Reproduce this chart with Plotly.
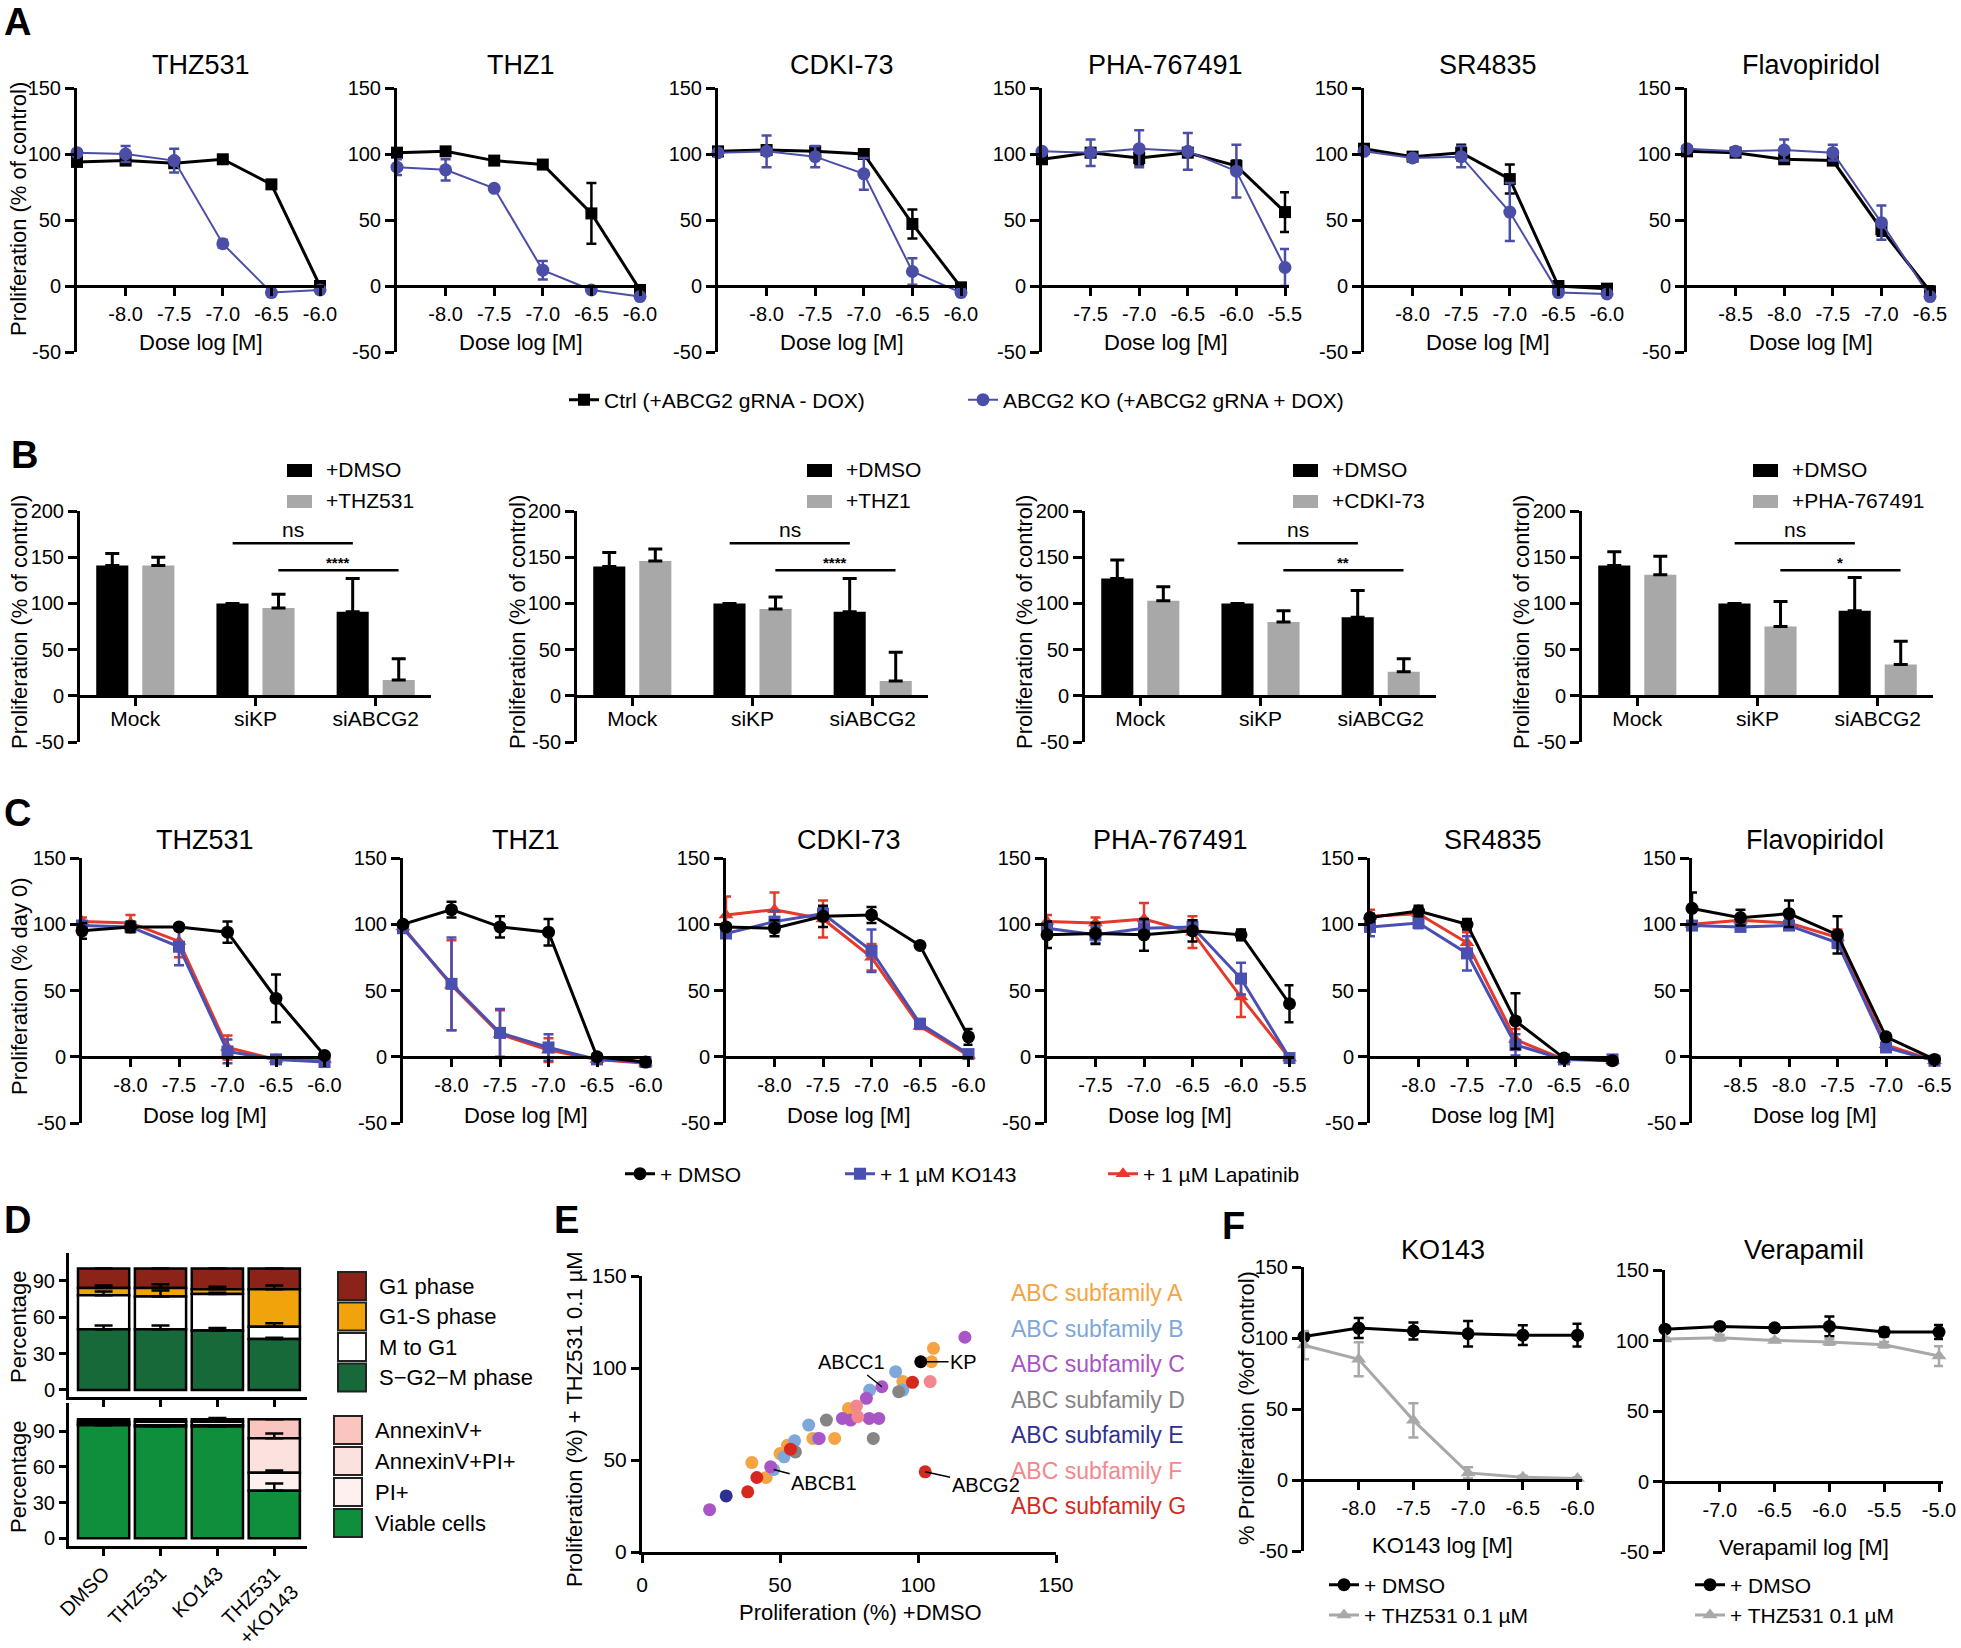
import numpy as np
import plotly.graph_objects as go

W, H = 1961, 1648
FONT = "Liberation Sans, Arial, Helvetica, sans-serif"

# ============================ DATA ============================
# Panels A and C: drugs and log doses [M]
DRUGS = ["THZ531", "THZ1", "CDKI-73", "PHA-767491", "SR4835", "Flavopiridol"]
DOSES = [
    [-8.5, -8.0, -7.5, -7.0, -6.5, -6.0],
    [-8.5, -8.0, -7.5, -7.0, -6.5, -6.0],
    [-8.5, -8.0, -7.5, -7.0, -6.5, -6.0],
    [-8.0, -7.5, -7.0, -6.5, -6.0, -5.5],
    [-8.5, -8.0, -7.5, -7.0, -6.5, -6.0],
    [-9.0, -8.5, -8.0, -7.5, -7.0, -6.5],
]
# Panel A: Ctrl vs ABCG2 KO (% of control)
A_CTRL = [[94, 95, 93, 96, 77, 0], [101, 102, 95, 92, 55, -3], [102, 103, 102, 100, 47, -1],
          [96, 101, 97, 101, 91, 56], [104, 98, 101, 81, 0, -2], [102, 101, 96, 95, 43, -4]]
A_CTRL_SEM = [[3, 3, 2, 2, 2, 1], [2, 3, 2, 3, 23, 1], [2, 2, 3, 2, 11, 1],
              [2, 3, 5, 3, 4, 15], [2, 2, 6, 11, 1, 1], [2, 2, 3, 2, 5, 1]]
A_KO = [[101, 100, 95, 32, -5, -3], [90, 88, 74, 12, -3, -8], [101, 102, 98, 85, 11, -5],
        [102, 101, 104, 102, 87, 14], [102, 97, 98, 56, -5, -6], [104, 102, 103, 101, 48, -8]]
A_KO_SEM = [[2, 6, 9, 3, 1, 2], [6, 8, 2, 7, 1, 1], [1, 12, 8, 12, 10, 1],
            [2, 10, 14, 14, 20, 14], [2, 2, 8, 22, 1, 1], [1, 3, 8, 6, 13, 1]]
A_NAMES = ["Ctrl (+ABCG2 gRNA - DOX)", "ABCG2 KO (+ABCG2 gRNA + DOX)"]

# Panel B: siRNA bars (% of control)
B_CATS = ["Mock", "siKP", "siABCG2"]
B_DRUGS = ["+THZ531", "+THZ1", "+CDKI-73", "+PHA-767491"]
B_DMSO = [[141, 100, 91], [140, 100, 91], [127, 100, 85], [141, 100, 92]]
B_DMSO_SEM = [[13, 0, 36], [15, 0, 36], [20, 0, 29], [15, 0, 36]]
B_DRUG = [[141, 95, 17], [146, 94, 16], [103, 80, 26], [131, 75, 34]]
B_DRUG_SEM = [[9, 15, 23], [13, 13, 31], [15, 12, 14], [20, 27, 25]]
B_SIG = ["****", "****", "**", "*"]

# Panel C: % day 0
C_DMSO = [[95, 98, 98, 94, 44, 1], [100, 111, 98, 94, 0, -4], [98, 97, 106, 107, 84, 15],
          [92, 93, 92, 95, 92, 40], [105, 110, 100, 27, -1, -3], [112, 105, 108, 92, 15, -2]]
C_DMSO_SEM = [[6, 4, 2, 8, 18, 2], [2, 6, 8, 10, 2, 2], [2, 6, 8, 6, 1, 6],
              [10, 8, 12, 8, 4, 14], [3, 4, 4, 21, 1, 1], [12, 6, 10, 14, 2, 1]]
C_KO143 = [[99, 98, 83, 4, -2, -4], [97, 55, 18, 7, -2, -4], [93, 102, 108, 80, 25, 2],
           [97, 92, 97, 98, 59, -1], [98, 101, 78, 9, -2, -2], [99, 98, 99, 86, 7, -3]]
C_KO143_SEM = [[3, 3, 14, 9, 1, 1], [2, 35, 18, 10, 1, 1], [3, 8, 5, 16, 2, 1],
               [5, 6, 6, 5, 12, 1], [7, 4, 13, 8, 1, 1], [2, 2, 2, 4, 1, 1]]
C_LAP = [[102, 101, 87, 7, -2, -2], [98, 54, 17, 5, -2, -5], [107, 111, 104, 75, 23, 1],
         [102, 101, 104, 94, 45, -1], [106, 108, 86, 13, -2, -3], [100, 103, 101, 90, 9, -3]]
C_LAP_SEM = [[3, 6, 12, 9, 1, 1], [2, 34, 18, 9, 1, 1], [14, 13, 14, 10, 2, 1],
             [5, 4, 12, 12, 15, 1], [5, 4, 8, 8, 1, 1], [2, 2, 3, 6, 1, 1]]
C_NAMES = ["+ DMSO", "+ 1 µM KO143", "+ 1 µM Lapatinib"]

# Panel D: cell cycle (top) and apoptosis (bottom), percentages
D_CONDS = ["DMSO", "THZ531", "KO143", "THZ531<br>+KO143"]
D_SG2M = [50, 50, 49, 42]
D_SG2M_SEM = [3, 3, 2, 1]
D_MTOG1 = [28, 27, 30, 10]
D_MTOG1_SEM = [3, 5, 1, 3]
D_G1S = [6, 7, 4, 31]
D_G1S_SEM = [2, 3, 2, 3]
D_G1 = [16, 16, 17, 17]
D_G1_SEM = [0, 0, 0, 0]
D_CYCLE_NAMES = ["S\u2212G2\u2212M phase", "M to G1", "G1-S phase", "G1 phase"]
D_VIABLE = [95, 94, 94, 40]
D_VIABLE_SEM = [1, 1, 1, 6]
D_PI = [1, 1, 1, 15]
D_PI_SEM = [0, 0, 0, 2]
D_ANNPI = [2, 3, 3, 29]
D_ANNPI_SEM = [1, 1, 1, 4]
D_ANN = [2, 2, 2, 16]
D_ANN_SEM = [0, 0, 1, 0]
D_APOP_NAMES = ["Viable cells", "PI+", "AnnexinV+PI+", "AnnexinV+"]

# Panel E: ABC transporter siRNA screen
E_X = [117, 105.6, 104.9, 104.4, 98, 94.5, 91.9, 93, 94.5, 86.9,
       82.5, 81.3, 77.7, 74.8, 78.2, 72.6, 75.6, 82.3, 85.8, 66.8,
       83.8, 60.4, 61.9, 63.7, 64.2, 69.8, 55.3, 52.7, 55.6, 53.8,
       50, 51.5, 39.8, 46.6, 47.7, 45, 41.6, 38.3, 30.5, 24.5, 102.6]
E_Y = [116.7, 110.7, 103.4, 92.6, 92.2, 92.6, 98, 87.1, 88, 89.8,
       88, 83.5, 79.3, 78, 73.5, 72.6, 71.7, 72.6, 72.6, 71.7,
       61.7, 69, 61.7, 61.7, 61.7, 61.7, 60.4, 58, 54.4, 55.9,
       53.5, 51.7, 48.6, 46.3, 44.8, 40.5, 40.5, 32.7, 30.5, 23, 43.6]
E_FAM = ['C', 'A', 'A', 'F', 'G', 'A', 'B', 'D', 'B', 'C',
         'B', 'C', 'F', 'A', 'F', 'C', 'C', 'C', 'C', 'D',
         'D', 'B', 'A', 'B', 'C', 'A', 'B', 'A', 'D', 'G',
         'A', 'B', 'A', 'C', 'B', 'A', 'G', 'G', 'E', 'C', 'G']
E_FAMILIES = ['A', 'B', 'C', 'D', 'E', 'F', 'G']
E_KP = [101, 103.4]
E_LABELS = ["ABCC1", "KP", "ABCB1", "ABCG2"]
E_LABEL_PTS = [(86.9, 89.8), (101, 103.4), (47.7, 44.8), (102.6, 43.6)]

# Panel F
F_DOSE_KO = [-8.5, -8.0, -7.5, -7.0, -6.5, -6.0]
F_DOSE_VER = [-7.5, -7.0, -6.5, -6.0, -5.5, -5.0]
F_KO_DMSO = [101, 107, 105, 103, 102, 102]
F_KO_DMSO_SEM = [2, 7, 6, 9, 7, 8]
F_KO_THZ = [95, 85, 42, 5, 2, 1]
F_KO_THZ_SEM = [10, 12, 12, 4, 1, 1]
F_VER_DMSO = [108, 110, 109, 110, 106, 106]
F_VER_DMSO_SEM = [2, 2, 2, 7, 3, 5]
F_VER_THZ = [101, 102, 100, 99, 97, 89]
F_VER_THZ_SEM = [1, 2, 1, 2, 2, 7]
F_NAMES = ["+ DMSO", "+ THZ531 0.1 µM"]

# ============================ STYLE ============================
BLUE_A = "#4A4EA6"
BLUE_C = "#4A50B2"
RED_C = "#E5392B"
GRAY = "#A8A8A8"
E_COLORS = {'A': '#F5A443', 'B': '#7EA7DA', 'C': '#A855C6', 'D': '#858585',
            'E': '#2E3192', 'F': '#F4878D', 'G': '#D6281E'}
TICK = 20

fig = go.Figure()
layout = dict(width=W, height=H, margin=dict(l=0, r=0, t=0, b=0, pad=0, autoexpand=False),
              autosize=False, paper_bgcolor='white', plot_bgcolor='white', barmode='overlay',
              hovermode=False, font=dict(family=FONT, color='black'))
annotations = []
shapes = []
n_ax = [0]


def axstyle(**kw):
    d = dict(showline=True, linecolor='black', linewidth=3, ticks='outside', tickcolor='black',
             tickwidth=3, ticklen=8, showgrid=False, zeroline=False, fixedrange=True,
             automargin=False, tickfont=dict(family=FONT, size=TICK, color='black'))
    d.update(kw)
    return d


def make_axes(xpx, ypx, xkw, ykw):
    n_ax[0] += 1
    s = '' if n_ax[0] == 1 else str(n_ax[0])
    xd = dict(domain=[xpx[0] / W, xpx[1] / W], anchor='y' + s)
    xd.update(xkw)
    yd = dict(domain=[1 - ypx[1] / H, 1 - ypx[0] / H], anchor='x' + s)
    yd.update(ykw)
    layout['xaxis' + s] = xd
    layout['yaxis' + s] = yd
    return 'x' + s, 'y' + s


def txt(x, y, s, size=20, xanchor='center', yanchor='middle', angle=0, color='black', bold=False):
    if bold:
        s = '<b>%s</b>' % s
    annotations.append(dict(x=x / W, y=1 - y / H, xref='paper', yref='paper', text=s,
                            showarrow=False, xanchor=xanchor, yanchor=yanchor, textangle=angle,
                            font=dict(family=FONT, size=size, color=color)))


def dose_axes(x0, step, doses, ytop, ybot):
    x1 = x0 + (len(doses) - 1) * step + 4
    xend = doses[-1] + 4 * 0.5 / step
    yzero = ytop + (ybot - ytop) * 150 / 200
    xkw = axstyle(range=[doses[0], xend], tickmode='array', tickvals=doses[1:],
                  ticktext=['%.1f' % d for d in doses[1:]], anchor='free',
                  position=1 - yzero / H, ticklabelstandoff=1)
    ykw = axstyle(range=[-50, 150], tickmode='array', tickvals=[-50, 0, 50, 100, 150],
                  ticktext=['-50', '0', '50', '100', '150'], ticklen=9)
    xr, yr = make_axes((x0, x1), (ytop, ybot), xkw, ykw)
    return xr, yr, x1


def series(xr, yr, x, y, err, color, symbol, msize, lw, name, legend=None):
    fig.add_trace(go.Scatter(
        x=x, y=y, mode='lines+markers', xaxis=xr, yaxis=yr, name=name,
        line=dict(color=color, width=lw), marker=dict(symbol=symbol, size=msize, color=color),
        error_y=dict(type='data', array=err, color=color, thickness=2.5, width=5),
        cliponaxis=False, showlegend=legend is not None, legend=legend if legend else 'legend'))


def legend_cfg(xpx, ypx, orientation='h'):
    return dict(x=xpx / W, y=1 - ypx / H, xanchor='left', yanchor='middle',
                orientation=orientation, font=dict(family=FONT, size=21, color='black'),
                bgcolor='rgba(0,0,0,0)', borderwidth=0, itemclick=False,
                itemdoubleclick=False, tracegroupgap=0)


# ============================ PANEL A ============================
A_X0 = [77, 397, 718, 1042, 1364, 1687]
for i, drug in enumerate(DRUGS):
    xr, yr, x1 = dose_axes(A_X0[i], 48.6, DOSES[i], 88, 352)
    series(xr, yr, DOSES[i], A_CTRL[i], A_CTRL_SEM[i], 'black', 'square', 12, 3, A_NAMES[0],
           'legend' if i == 0 else None)
    series(xr, yr, DOSES[i], A_KO[i], A_KO_SEM[i], BLUE_A, 'circle', 13, 2, A_NAMES[1],
           'legend2' if i == 0 else None)
    cx = (A_X0[i] + x1) / 2
    txt(cx, 65, drug, 27)
    txt(cx, 343, 'Dose log [M]', 22)
txt(18, 209, 'Proliferation (% of control)', 22, angle=-90)
txt(17, 22, 'A', 38, bold=True)
layout['legend'] = legend_cfg(564, 400)
layout['legend2'] = legend_cfg(963, 400)

# ============================ PANEL B ============================
B_X0 = [80, 577, 1085, 1582]
B_YT, B_YB = 511, 742
B_Y0 = B_YT + (B_YB - B_YT) * 200 / 250
B_LEG_X = [287, 807, 1293, 1753]
B_TITLE_X = [19, 517, 1024, 1521]
for i in range(4):
    xkw = axstyle(type='category', range=[-0.46, 2.46], anchor='free', position=1 - B_Y0 / H,
                  ticklabelstandoff=-5, tickfont=dict(family=FONT, size=21))
    ykw = axstyle(range=[-50, 200], tickmode='array', tickvals=[-50, 0, 50, 100, 150, 200],
                  ticktext=['-50', '0', '50', '100', '150', '200'], ticklen=9)
    xr, yr = make_axes((B_X0[i], B_X0[i] + 351), (B_YT, B_YB), xkw, ykw)
    fig.add_trace(go.Bar(x=B_CATS, y=B_DMSO[i], width=0.267, offset=-0.325, xaxis=xr, yaxis=yr,
                         marker=dict(color='black', line=dict(width=0)), showlegend=False,
                         error_y=dict(type='data', symmetric=False, array=B_DMSO_SEM[i],
                                      arrayminus=[0, 0, 0], color='black', thickness=3, width=7)))
    fig.add_trace(go.Bar(x=B_CATS, y=B_DRUG[i], width=0.267, offset=0.058, xaxis=xr, yaxis=yr,
                         marker=dict(color=GRAY, line=dict(width=0)), showlegend=False,
                         error_y=dict(type='data', symmetric=False, array=B_DRUG_SEM[i],
                                      arrayminus=[0, 0, 0], color='black', thickness=3, width=7)))
    # significance brackets
    shapes.append(dict(type='line', xref=xr, yref=yr, x0=0.81, x1=1.81, y0=165, y1=165,
                       line=dict(color='black', width=2.5)))
    shapes.append(dict(type='line', xref=xr, yref=yr, x0=1.19, x1=2.19, y0=136, y1=136,
                       line=dict(color='black', width=2.5)))
    annotations.append(dict(x=1.31, y=165, xref=xr, yref=yr, text='ns', showarrow=False,
                            yanchor='bottom', font=dict(family=FONT, size=21)))
    annotations.append(dict(x=1.69, y=136, xref=xr, yref=yr, text='<b>%s</b>' % B_SIG[i],
                            showarrow=False, yanchor='bottom', yshift=-3,
                            font=dict(family=FONT, size=15)))
    # legend swatches
    lx = B_LEG_X[i]
    shapes.append(dict(type='rect', xref='paper', yref='paper', x0=lx / W, x1=(lx + 25) / W,
                       y0=1 - 477 / H, y1=1 - 464 / H, fillcolor='black', line=dict(width=0)))
    shapes.append(dict(type='rect', xref='paper', yref='paper', x0=lx / W, x1=(lx + 25) / W,
                       y0=1 - 508 / H, y1=1 - 495 / H, fillcolor=GRAY, line=dict(width=0)))
    txt(lx + 37, 470, '+DMSO', 21, xanchor='left')
    txt(lx + 37, 501, B_DRUGS[i], 21, xanchor='left')
    txt(B_TITLE_X[i], 622, 'Proliferation (% of control)', 22, angle=-90)
txt(24, 455, 'B', 38, bold=True)

# ============================ PANEL C ============================
C_X0 = [82, 403, 726, 1047, 1370, 1692]
for i, drug in enumerate(DRUGS):
    xr, yr, x1 = dose_axes(C_X0[i], 48.5, DOSES[i], 858, 1123)
    series(xr, yr, DOSES[i], C_LAP[i], C_LAP_SEM[i], RED_C, 'triangle-up', 13, 3, C_NAMES[2],
           'legend5' if i == 0 else None)
    series(xr, yr, DOSES[i], C_KO143[i], C_KO143_SEM[i], BLUE_C, 'square', 12, 3, C_NAMES[1],
           'legend4' if i == 0 else None)
    series(xr, yr, DOSES[i], C_DMSO[i], C_DMSO_SEM[i], 'black', 'circle', 13, 3, C_NAMES[0],
           'legend3' if i == 0 else None)
    cx = (C_X0[i] + x1) / 2
    txt(cx, 840, drug, 27)
    txt(cx, 1115, 'Dose log [M]', 22)
txt(19, 986, 'Proliferation (% day 0)', 22, angle=-90)
txt(17, 813, 'C', 38, bold=True)
layout['legend3'] = legend_cfg(620, 1174)
layout['legend4'] = legend_cfg(840, 1174)
layout['legend5'] = legend_cfg(1103, 1174)

# ============================ PANEL D ============================
D_XPX = (69, 307)
D_XR = [-0.608, 3.575]


def stacked(xr, yr, layers):
    base = np.zeros(len(D_CONDS))
    bases = []
    for vals, _, _ in layers:
        bases.append(base.copy())
        base = base + np.array(vals, dtype=float)
    for (vals, err, color), b in reversed(list(zip(layers, bases))):
        fig.add_trace(go.Bar(x=D_CONDS, y=vals, base=b, width=0.9, xaxis=xr, yaxis=yr,
                             marker=dict(color=color, line=dict(color='black', width=2.5)),
                             showlegend=False,
                             error_y=dict(type='data', symmetric=False, array=err,
                                          arrayminus=[0] * len(err), color='black',
                                          thickness=2.5, width=9)))


ykw_d = dict(tickmode='array', tickvals=[0, 30, 60, 90], ticktext=['0', '30', '60', '90'],
             ticklen=7, tickfont=dict(family=FONT, size=20))
xr, yr = make_axes(D_XPX, (1253, 1397),
                   axstyle(type='category', range=D_XR, showticklabels=False, ticklen=7),
                   axstyle(range=[-5.8, 112.8], **ykw_d))
stacked(xr, yr, [(D_SG2M, D_SG2M_SEM, '#17693A'), (D_MTOG1, D_MTOG1_SEM, '#FFFFFF'),
                 (D_G1S, D_G1S_SEM, '#F0A30A'), (D_G1, D_G1_SEM, '#8B2319')])
xr, yr = make_axes(D_XPX, (1403, 1546),
                   axstyle(type='category', range=D_XR, ticklen=7, tickangle=-45,
                           ticklabelstandoff=-2, tickfont=dict(family=FONT, size=20)),
                   axstyle(range=[-6.5, 113.7], **ykw_d))
stacked(xr, yr, [(D_VIABLE, D_VIABLE_SEM, '#0F8F3C'), (D_PI, D_PI_SEM, '#FDF0EF'),
                 (D_ANNPI, D_ANNPI_SEM, '#FCE2DF'), (D_ANN, D_ANN_SEM, '#FAC4BF')])
txt(18, 1327, 'Percentage', 22, angle=-90)
txt(18, 1477, 'Percentage', 22, angle=-90)
txt(17, 1220, 'D', 38, bold=True)
# D legends
for k, (name, color) in enumerate(zip(reversed(D_CYCLE_NAMES),
                                      ['#8B2319', '#F0A30A', '#FFFFFF', '#17693A'])):
    y0 = 1272 + k * 30.5
    shapes.append(dict(type='rect', xref='paper', yref='paper', x0=338 / W, x1=366 / W,
                       y0=1 - (y0 + 28) / H, y1=1 - y0 / H, fillcolor=color,
                       line=dict(color='#222222', width=2)))
    txt(377, y0 + 14, name, 22, xanchor='left')
for k, (name, color) in enumerate(zip(reversed(D_APOP_NAMES),
                                      ['#FAC4BF', '#FCE2DF', '#FDF0EF', '#0F8F3C'])):
    y0 = 1416 + k * 31
    shapes.append(dict(type='rect', xref='paper', yref='paper', x0=334 / W, x1=362 / W,
                       y0=1 - (y0 + 28) / H, y1=1 - y0 / H, fillcolor=color,
                       line=dict(color='#222222', width=2)))
    txt(373, y0 + 14, name, 22, xanchor='left')

# ============================ PANEL E ============================
xr, yr = make_axes((642, 1056), (1276, 1552),
                   axstyle(range=[0, 150], tickmode='array', tickvals=[0, 50, 100, 150],
                           ticktext=['0', '50', '100', '150'], tickfont=dict(family=FONT, size=21),
                           ticklabelstandoff=4),
                   axstyle(range=[0, 150], tickmode='array', tickvals=[0, 50, 100, 150],
                           ticktext=['0', '50', '100', '150'], tickfont=dict(family=FONT, size=21)))
for fam in E_FAMILIES:
    idx = [j for j, f in enumerate(E_FAM) if f == fam]
    fig.add_trace(go.Scatter(x=[E_X[j] for j in idx], y=[E_Y[j] for j in idx], mode='markers',
                             xaxis=xr, yaxis=yr, marker=dict(size=13, color=E_COLORS[fam]),
                             showlegend=False, cliponaxis=False))
fig.add_trace(go.Scatter(x=[E_KP[0]], y=[E_KP[1]], mode='markers', xaxis=xr, yaxis=yr,
                         marker=dict(size=13, color='black'), showlegend=False, cliponaxis=False))
E_TEXT_POS = [(76, 103), (116.5, 103.4), (66, 37.5), (124.5, 36.5)]
for lab, (px_, py_), (tx, ty) in zip(E_LABELS, E_LABEL_PTS, E_TEXT_POS):
    annotations.append(dict(x=px_, y=py_, xref=xr, yref=yr, ax=tx, ay=ty, axref=xr, ayref=yr,
                            text=lab, showarrow=True, arrowhead=0, arrowwidth=1.5,
                            arrowcolor='black', standoff=0,
                            font=dict(family=FONT, size=20, color='black')))
for k, fam in enumerate(E_FAMILIES):
    txt(1009, 1293 + k * 35.5, 'ABC subfamily %s' % fam, 23, xanchor='left', color=E_COLORS[fam])
txt(860, 1612, 'Proliferation (%) +DMSO', 22)
txt(574, 1419, 'Proliferation (%) + THZ531 0.1 µM', 22, angle=-90)
txt(566, 1220, 'E', 38, bold=True)

# ============================ PANEL F ============================
xr, yr, x1 = dose_axes(1304, 54.7, F_DOSE_KO, 1267, 1551)
series(xr, yr, F_DOSE_KO, F_KO_DMSO, F_KO_DMSO_SEM, 'black', 'circle', 13, 3, F_NAMES[0], 'legend6')
series(xr, yr, F_DOSE_KO, F_KO_THZ, F_KO_THZ_SEM, GRAY, 'triangle-up', 13, 3, F_NAMES[1], 'legend6')
txt((1304 + x1) / 2, 1250, 'KO143', 27)
txt((1304 + x1) / 2, 1545, 'KO143 log [M]', 22)
xr, yr, x1 = dose_axes(1665, 54.8, F_DOSE_VER, 1270, 1552)
series(xr, yr, F_DOSE_VER, F_VER_DMSO, F_VER_DMSO_SEM, 'black', 'circle', 13, 3, F_NAMES[0], 'legend7')
series(xr, yr, F_DOSE_VER, F_VER_THZ, F_VER_THZ_SEM, GRAY, 'triangle-up', 13, 3, F_NAMES[1], 'legend7')
txt((1665 + x1) / 2, 1250, 'Verapamil', 27)
txt((1665 + x1) / 2, 1547, 'Verapamil log [M]', 22)
txt(1246, 1408, '% Proliferation (%of control)', 22, angle=-90)
txt(1233, 1226, 'F', 38, bold=True)
layout['legend6'] = legend_cfg(1324, 1600, 'v')
layout['legend7'] = legend_cfg(1690, 1600, 'v')

layout['annotations'] = annotations
layout['shapes'] = shapes
fig.update_layout(**layout)
fig.write_html("out.html", config={'displayModeBar': False},
               post_script="document.body.style.margin='0px';document.body.style.overflow='hidden';")
